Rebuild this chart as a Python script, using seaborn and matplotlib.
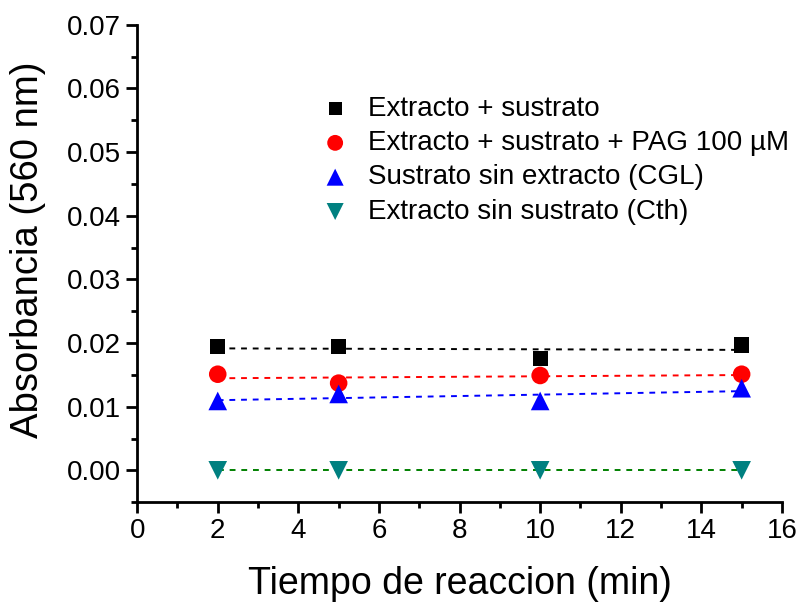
import matplotlib
matplotlib.use("Agg")
import matplotlib.pyplot as plt
import seaborn as sns
import numpy as np
import pandas as pd
from matplotlib.ticker import MultipleLocator

sns.set_style("ticks")
plt.rcParams['font.family'] = ['Liberation Sans', 'DejaVu Sans']
plt.rcParams['text.color'] = 'black'
plt.rcParams['axes.labelcolor'] = 'black'

time_min = [2, 5, 10, 15]
extracto_sustrato = [0.0194, 0.0195, 0.0176, 0.0197]
extracto_sustrato_pag = [0.0151, 0.0137, 0.0149, 0.0151]
sustrato_sin_extracto = [0.0109, 0.0120, 0.0109, 0.0129]
extracto_sin_sustrato = [0.0, 0.0, 0.0, 0.0]

labels = ["Extracto + sustrato",
          "Extracto + sustrato + PAG 100 µM",
          "Sustrato sin extracto (CGL)",
          "Extracto sin sustrato (Cth)"]
series = [extracto_sustrato, extracto_sustrato_pag, sustrato_sin_extracto, extracto_sin_sustrato]
marker_colors = ["black", "#ff0000", "#0000ff", "#008080"]
line_colors = ["black", "#ff0000", "#0000ff", "#008000"]
markers = ["s", "o", "^", "v"]
sizes = [120, 160, 180, 180]
leg_sizes = [90, 130, 150, 150]

fig = plt.figure(figsize=(8.02, 6.05), dpi=100)
ax = fig.add_axes([0.171, 0.170, 0.804, 0.789])

handles = []
for vals, lab, mc, lc, mk, sz in zip(series, labels, marker_colors, line_colors, markers, sizes):
    df = pd.DataFrame({"t": time_min, "a": vals})
    sns.regplot(data=df, x="t", y="a", ax=ax, scatter=False, ci=None,
                line_kws=dict(color=lc, linestyle=(0, (3, 3)), linewidth=1.4), truncate=True)
    sc = ax.scatter(df["t"], df["a"], marker=mk, s=sz, color=mc, edgecolors='none', zorder=3, label=lab)
    handles.append(sc)

ax.set_xlim(0, 16)
ax.set_ylim(-0.005, 0.07)
ax.xaxis.set_minor_locator(MultipleLocator(1))
ax.yaxis.set_minor_locator(MultipleLocator(0.005))
yt = [0, 0.01, 0.02, 0.03, 0.04, 0.05, 0.06, 0.07]
ax.set_yticks(yt)
ax.set_yticklabels([f"{v:.2f}" for v in yt])
ax.set_xticks(range(0, 17, 2))
ax.set_xticklabels([str(v) for v in range(0, 17, 2)])

for s in ["top", "right"]:
    ax.spines[s].set_visible(False)
for s in ["left", "bottom"]:
    ax.spines[s].set_linewidth(2)
    ax.spines[s].set_color("black")
ax.tick_params(which="major", direction="out", length=8, width=2, labelsize=20, color="black", labelcolor="black")
ax.tick_params(which="minor", direction="out", length=4, width=2, color="black")

ax.set_xlabel("Tiempo de reaccion (min)", fontsize=27, labelpad=16, color="black")
ax.set_ylabel("Absorbancia (560 nm)", fontsize=27.5, color="black")
ax.yaxis.set_label_coords(-0.142, 0.528)

leg = ax.legend(handles=handles, labels=labels, loc="upper left", bbox_to_anchor=(0.385, 0.86),
                bbox_transform=fig.transFigure, frameon=False, fontsize=20,
                handletextpad=0.65, labelspacing=0.3, borderaxespad=0, handlelength=1.1)
for h, s in zip(leg.legend_handles, leg_sizes):
    h.set_sizes([s])
for t in leg.get_texts():
    t.set_color("black")

fig.savefig("out.png", dpi=100)
